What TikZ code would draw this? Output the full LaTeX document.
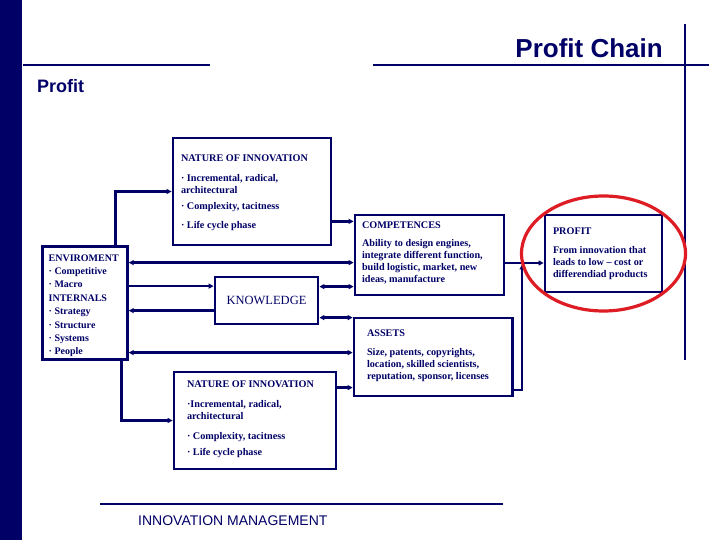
\documentclass[tikz,border=0pt]{standalone}
\usepackage{fontspec}
\setmainfont{Liberation Serif}
\newfontfamily\slidefont{Liberation Sans}
\usepackage{tikz}
\usetikzlibrary{arrows.meta,positioning}
\definecolor{slidenavy}{RGB}{0,0,102}
\definecolor{ringred}{RGB}{222,28,36}
\newcommand{\panelbody}[5]{\parbox[c][#2pt][t]{#1pt}{\leftskip=#3pt\relax\vspace*{#4pt}#5}}
\tikzset{
  panel/.style={
    draw=slidenavy,
    line width=2.8pt,
    inner sep=0pt,
    text=slidenavy,
    font=\bfseries\fontsize{10.2}{12}\selectfont
  },
  link/.style={
    -{Triangle[length=5pt,width=5pt]},
    draw=slidenavy,
    line width=2.6pt
  },
  twoway/.style={
    {Triangle[length=5pt,width=5pt]}-{Triangle[length=5pt,width=5pt]},
    draw=slidenavy,
    line width=2.6pt
  },
  rule/.style={draw=slidenavy, line width=2.8pt},
  ring/.style={draw=ringred, line width=3.2pt},
  slidetext/.style={inner sep=0pt, text=slidenavy}
}

\begin{document}
\begin{tikzpicture}[x=1pt,y=-1pt]
\useasboundingbox (0,0) rectangle (720,540);
\fill[slidenavy] (0,0) rectangle (22,540);
\draw[rule] (23,65) -- (210,65);
\draw[rule] (373,65) -- (709,65);
\draw[rule] (100,504) -- (503,504);
\draw[slidenavy, line width=2.2pt] (685,24) -- (685,360);

\node[slidetext,anchor=base east,font=\slidefont\bfseries\fontsize{26}{30}\selectfont] (title) at (663,58) {Profit Chain};
\node[slidetext,anchor=base west,font=\slidefont\bfseries\fontsize{18}{21}\selectfont] (subtitle) at (37,93) {Profit};
\node[slidetext,anchor=base west,font=\slidefont\fontsize{14}{16}\selectfont] (footer) at (138,525) {INNOVATION MANAGEMENT};

\node[panel] (ni1) at (252,191.5) {\panelbody{158}{107}{8}{16.4}{%
NATURE OF INNOVATION\\[8pt]
· Incremental, radical,\\
architectural\\[4.5pt]
· Complexity, tacitness\\[6.5pt]
· Life cycle phase}};
\node[panel,font=\bfseries\fontsize{10}{13.4}\selectfont] (env) at (85,303) {\panelbody{84.6}{112.6}{6}{7.7}{%
ENVIROMENT\\
· Competitive\\
· Macro\\
INTERNALS\\
· Strategy\\
· Structure\\
· Systems\\
· People}};
\node[panel,font=\fontsize{12.5}{15}\selectfont,minimum width=103pt,minimum height=47pt] (know) at (266.5,300.5) {KNOWLEDGE};
\node[panel] (comp) at (429.5,255) {\panelbody{149}{80}{7}{7}{%
COMPETENCES\\[6pt]
Ability to design engines,\\
integrate different function,\\
build logistic, market, new\\
ideas, manufacture}};
\node[panel] (assets) at (433.3,357) {\panelbody{158.6}{78}{13}{11.4}{%
ASSETS\\[7pt]
\ Size, patents, copyrights,\\
location, skilled scientists,\\
reputation, sponsor, licenses}};
\node[panel] (profit) at (603.5,253.5) {\panelbody{117}{77}{8}{12.4}{%
PROFIT\\[7pt]
From innovation that\\
leads to low -- cost or\\
differendiad products}};
\node[panel] (ni2) at (255,420.5) {\panelbody{162}{97}{13}{8.4}{%
NATURE OF INNOVATION\\[8pt]
·Incremental, radical,\\
architectural\\[8pt]
· Complexity, tacitness\\[4pt]
· Life cycle phase}};

\coordinate (e1) at ([yshift=-17.3pt]env.north east);
\coordinate (e2) at ([yshift=-40.8pt]env.north east);
\coordinate (e3) at ([yshift=-65.3pt]env.north east);
\coordinate (e4) at ([yshift=-107.3pt]env.north east);
\coordinate (k1) at ([yshift=-11pt]know.north east);
\coordinate (k2) at ([yshift=-42pt]know.north east);
\coordinate (n1) at ([yshift=25pt]ni1.south east);
\coordinate (n2) at ([yshift=-17pt]ni2.north east);
\coordinate (c1) at ([yshift=-8pt]comp.east);
\coordinate (a1) at ([yshift=-33pt]assets.east);
\coordinate (join) at ([xshift=16.7pt]c1);

\draw[link] ([xshift=-13.3pt]env.north east) |- (ni1.west);
\draw[link] ([xshift=-7pt]env.south east) |- (ni2.west);
\draw[twoway] (e1) -- (e1 -| comp.west);
\draw[link] (e2) -- (e2 -| know.west);
\draw[link] (e3 -| know.west) -- (e3);
\draw[twoway] (e4) -- (e4 -| assets.west);
\draw[twoway] (k1) -- (k1 -| comp.west);
\draw[twoway] (k2) -- (k2 -| assets.west);
\draw[link] (n1) -- (n1 -| comp.west);
\draw[link] (n2) -- (n2 -| assets.west);
\draw[link] (c1) -- (c1 -| profit.west);
\draw[link,shorten >=1.4pt] (a1) -| (join);

\draw[ring] (profit.center) ellipse [x radius=82pt, y radius=57.5pt];
\end{tikzpicture}
\end{document}
